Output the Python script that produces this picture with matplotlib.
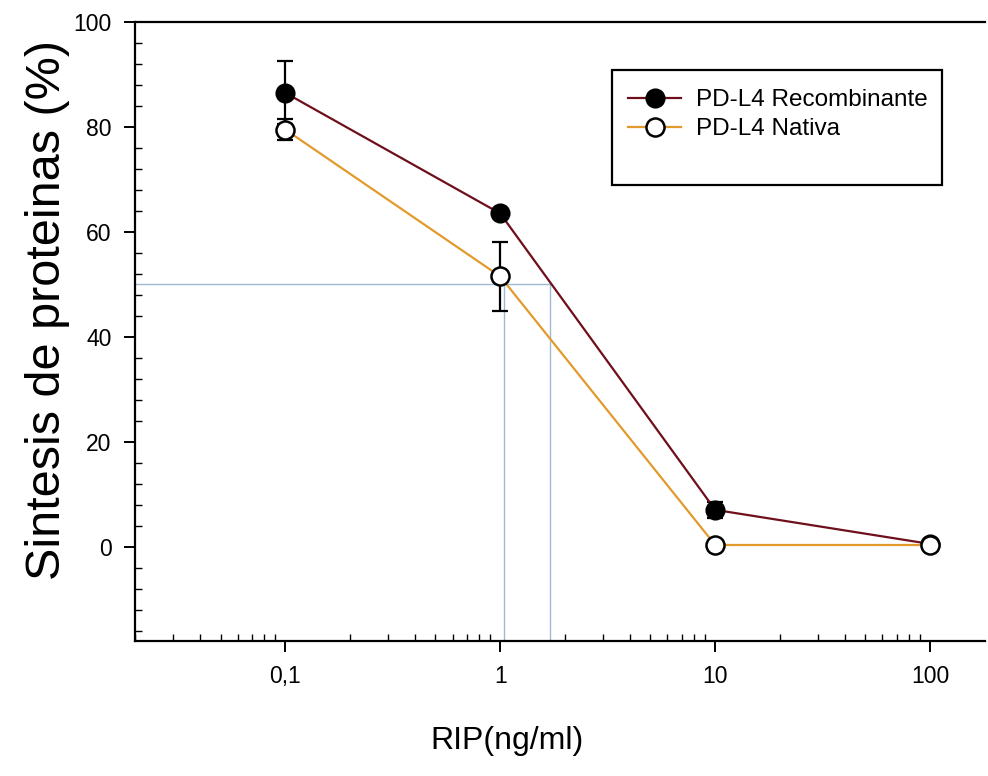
import matplotlib.pyplot as plt
from matplotlib.patches import Rectangle
from matplotlib.ticker import FixedLocator, FixedFormatter, MultipleLocator
import matplotlib
matplotlib.rcParams['font.family'] = ['Liberation Sans', 'DejaVu Sans']

# data
rip = [0.1, 1, 10, 100]
recomb = [86.5, 63.5, 7.0, 0.5]
recomb_err = [6.0, 0.8, 1.5, 0.5]
nativa = [79.5, 51.5, 0.3, 0.3]
nativa_err = [2.0, 6.5, 0.5, 0.3]
xtick_vals = [0.1, 1, 10, 100]
xtick_labels = ['0,1', '1', '10', '100']
ic50_x = [1.04, 1.7]   # x where each curve crosses 50 %
ic50_y = 50

fig = plt.figure(figsize=(9.88, 7.76), dpi=100)
ax = fig.add_axes([135/988, 1-641/776, 850/988, 619/776])

ref_col = '#9dbad2'
ax.plot([0.02, max(ic50_x)], [ic50_y, ic50_y], color=ref_col, lw=1.0, zorder=1)
for xv in ic50_x:
    ax.plot([xv, xv], [-18, ic50_y], color=ref_col, lw=1.0, zorder=1)

ax.errorbar(rip, recomb, yerr=recomb_err, fmt='none', ecolor='black',
            elinewidth=1.6, capsize=5.5, capthick=1.6, zorder=2)
ax.errorbar(rip, nativa, yerr=nativa_err, fmt='none', ecolor='black',
            elinewidth=1.6, capsize=5.5, capthick=1.6, zorder=2)
ax.plot(rip, recomb, color='#6e0f1c', lw=1.6, marker='o', ms=13,
        mfc='black', mec='black', mew=1.5, label='PD-L4 Recombinante', zorder=3)
ax.plot(rip, nativa, color='#e39a2c', lw=1.6, marker='o', ms=13,
        mfc='white', mec='black', mew=1.8, label='PD-L4 Nativa', zorder=3)

ax.set_xscale('log')
ax.set_xlim(0.02, 180)
ax.set_ylim(-18, 100)
ax.xaxis.set_major_locator(FixedLocator(xtick_vals))
ax.xaxis.set_major_formatter(FixedFormatter(xtick_labels))
ax.yaxis.set_major_locator(FixedLocator([0, 20, 40, 60, 80, 100]))
ax.yaxis.set_minor_locator(MultipleLocator(4))

ax.tick_params(which='major', direction='out', length=8, width=1.4, labelsize=16.5, pad=9)
ax.tick_params(which='minor', direction='in', length=5, width=1.0)
ax.tick_params(axis='x', which='major', pad=9)
ax.spines['right'].set_visible(False)
for s in ['left', 'bottom', 'top']:
    ax.spines[s].set_linewidth(1.6)

ax.set_xlabel('RIP(ng/ml)', fontsize=23)
ax.xaxis.set_label_coords(0.4376, -0.138)
ax.set_ylabel('Sintesis de proteinas (%)', fontsize=35)
ax.yaxis.set_label_coords(-0.076, 0.535)

fig.add_artist(Rectangle((612/988, 1-185/776), 330/988, 115/776, transform=fig.transFigure,
                         fill=False, edgecolor='black', lw=1.6))
ax.legend(loc='upper left', bbox_to_anchor=(628/988, 1-89/776), bbox_transform=fig.transFigure,
          frameon=False, fontsize=17.5, handlelength=2.2, handletextpad=0.6,
          labelspacing=0.3, borderpad=0, borderaxespad=0)

fig.savefig('out.png', dpi=100)
